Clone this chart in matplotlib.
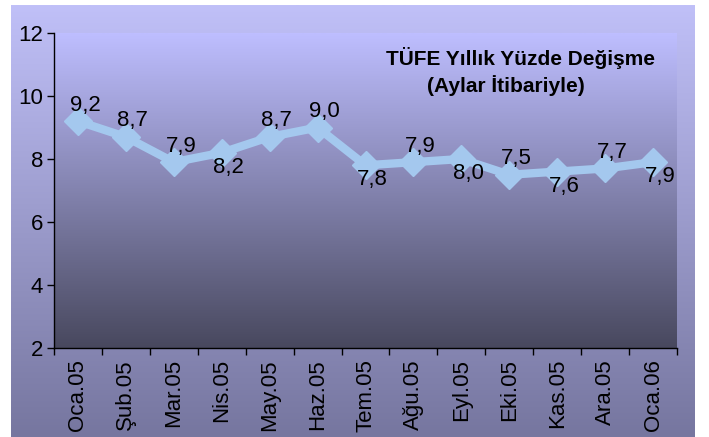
import numpy as np
import matplotlib
matplotlib.use("Agg")
import matplotlib.pyplot as plt
from matplotlib.colors import LinearSegmentedColormap

plt.rcParams['font.family'] = ['Liberation Sans', 'DejaVu Sans']

months = ['Oca.05', 'Şub.05', 'Mar.05', 'Nis.05', 'May.05', 'Haz.05', 'Tem.05',
          'Ağu.05', 'Eyl.05', 'Eki.05', 'Kas.05', 'Ara.05', 'Oca.06']
tufe = [9.2, 8.7, 7.9, 8.2, 8.7, 9.0, 7.8, 7.9, 8.0, 7.5, 7.6, 7.7, 7.9]
label_side = ['up', 'up', 'up', 'down', 'up', 'up', 'down', 'up', 'down', 'up', 'down', 'up', 'down']
yticks = [2, 4, 6, 8, 10, 12]

W, H = 709, 437
fig = plt.figure(figsize=(W / 100, H / 100), dpi=100)
fig.patch.set_facecolor('white')


def gradient(ax, top, bottom):
    cmap = LinearSegmentedColormap.from_list('g', [bottom, top])
    grad = np.linspace(0, 1, 256).reshape(-1, 1)
    ax.imshow(grad, cmap=cmap, aspect='auto', origin='lower',
              extent=[0, 1, 0, 1], transform=ax.transAxes, zorder=0)


# outer panel
bg = fig.add_axes([11 / W, 0, (695 - 11) / W, (437 - 5) / H])
bg.set_axis_off()
gradient(bg, '#c0c0f8', '#76769f')

# plot area
left, right, top, bottom = 54, 677, 33, 348
ax = fig.add_axes([left / W, 1 - bottom / H, (right - left) / W, (bottom - top) / H])
gradient(ax, '#bebeff', '#48485e')

x = np.arange(len(months))
ax.plot(x, tufe, color='#a4c8ee', lw=6, marker='D', ms=14, zorder=3, clip_on=False)

for xi, v, side in zip(x, tufe, label_side):
    dy = 11.5 if side == 'up' else -10.5
    ax.annotate(('%.1f' % v).replace('.', ','), (xi, v), xytext=(5, dy),
                textcoords='offset points', ha='center', va='center',
                fontsize=16, color='black', zorder=4)

ax.set_xlim(-0.5, len(months) - 0.5)
ax.set_ylim(2, 12)
ax.set_yticks(yticks)
ax.set_yticklabels([str(t) for t in yticks], fontsize=16)
ax.tick_params(axis='y', length=5, width=1, direction='out', pad=3)

ax.set_xticks(np.arange(-0.5, len(months)), minor=False)
ax.set_xticklabels([])
ax.tick_params(axis='x', which='major', length=5, width=1, direction='out')
ax.set_xticks(x, minor=True)
ax.set_xticklabels(months, minor=True, rotation=90, fontsize=16)
ax.tick_params(axis='x', which='minor', length=0, pad=8)

for s in ['top', 'right']:
    ax.spines[s].set_visible(False)
for s in ['left', 'bottom']:
    ax.spines[s].set_color('black')
    ax.spines[s].set_linewidth(1)

fig.text(521 / W, 1 - 58 / H, 'TÜFE Yıllık Yüzde Değişme', ha='center', va='center',
         fontsize=15, fontweight='bold')
fig.text(506 / W, 1 - 86 / H, '(Aylar İtibariyle)', ha='center', va='center',
         fontsize=15, fontweight='bold')

fig.savefig('out.png', dpi=100)
